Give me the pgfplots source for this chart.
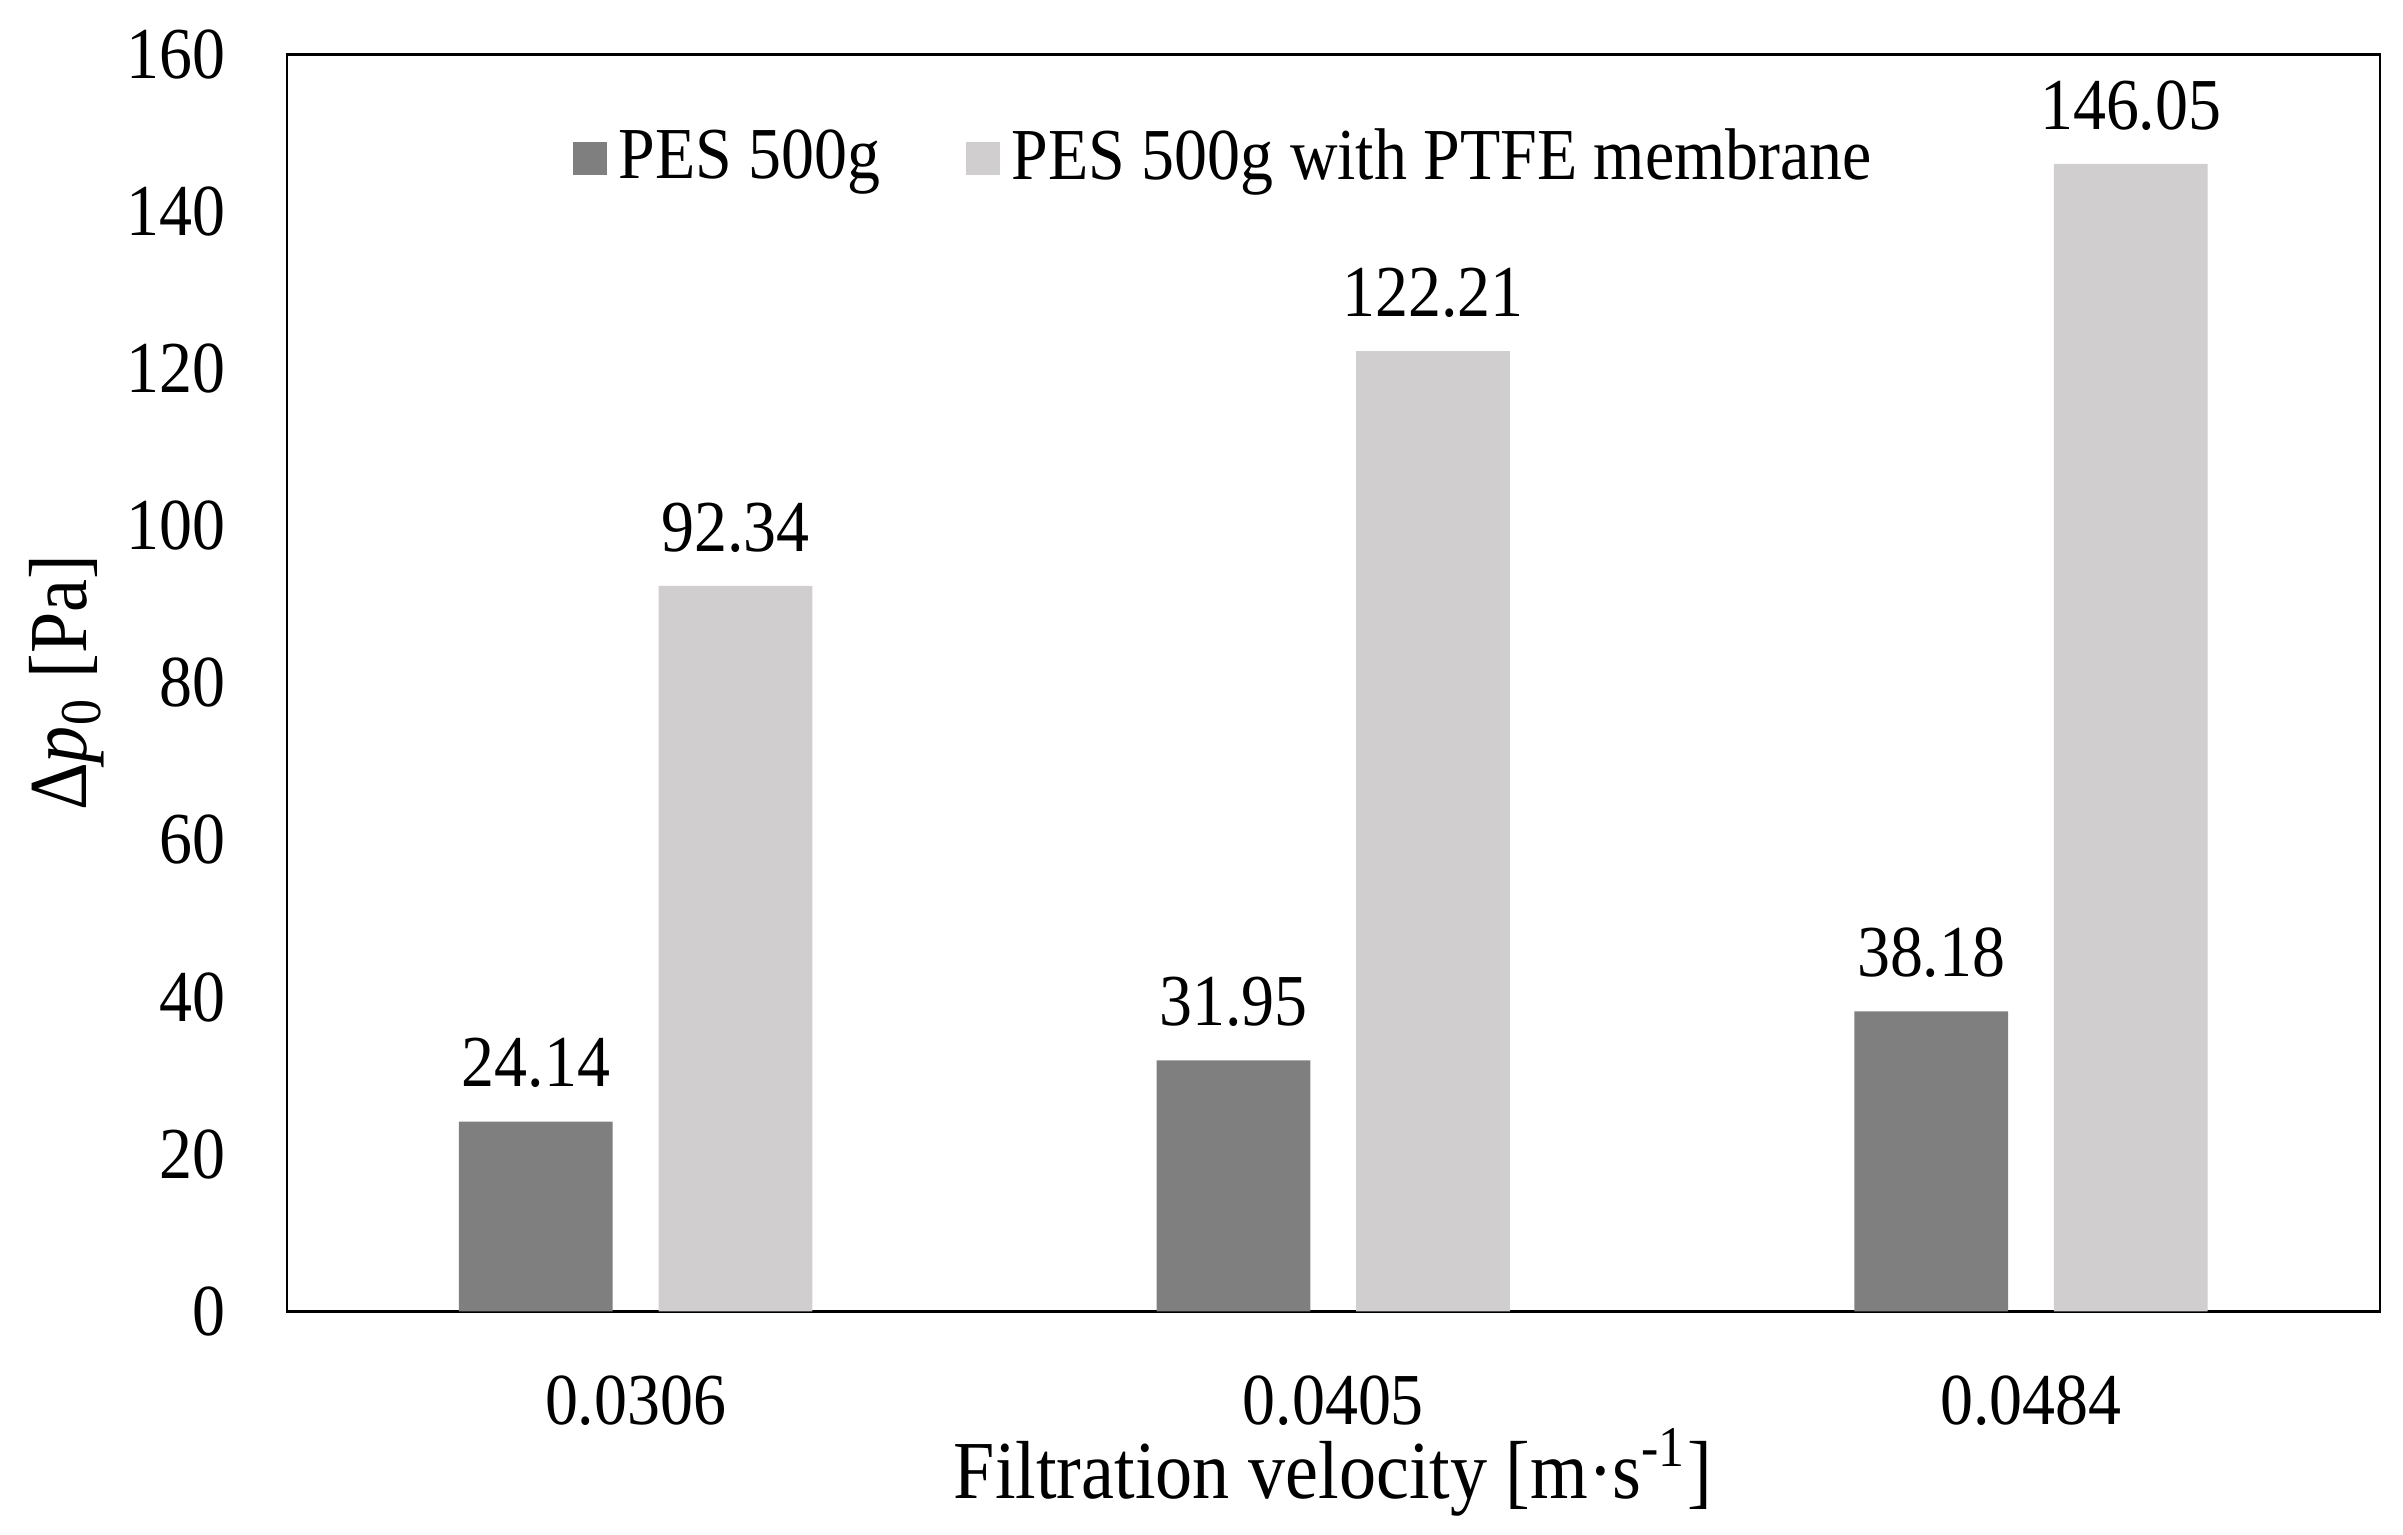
\documentclass[border=0pt]{standalone}
\usepackage{fontspec}
\setmainfont{Liberation Serif}[FakeStretch=0.9]
\usepackage{pgfplots}
\pgfplotsset{compat=1.18}
\definecolor{darkbar}{HTML}{7F7F7F}
\definecolor{lightbar}{HTML}{D0CECE}

\begin{document}
\begin{tikzpicture}
  \useasboundingbox (-47pt,-36.6pt) rectangle (346.8pt,214.9pt);
  \begin{axis}[
      scale only axis,
      width=343pt,
      height=206pt,
      xmin=-0.5, xmax=2.5,
      ymin=0, ymax=160,
      ytick={0,20,...,160},
      xtick={0,1,2},
      xticklabels={0.0306,0.0405,0.0484},
      major tick length=0pt,
      ybar,
      bar width=25.2pt,
      /pgf/number format/assume math mode=true,
      tick label style={font=\fontsize{12}{14}\selectfont},
      yticklabel style={xshift=-6.5pt},
      xticklabel style={yshift=-7pt},
      every axis y label/.style={
        at={(axis description cs:0,0.5)},
        xshift=-36pt, rotate=90, anchor=center,
        font=\fontsize{13.5}{15}\selectfont
      },
      every axis x label/.style={
        at={(axis description cs:0.5,0)},
        yshift=-26.4pt, anchor=center,
        font=\fontsize{13.5}{15}\selectfont
      },
      ylabel={Δ\textit{p}\textsubscript{0} [Pa]},
      xlabel={Filtration velocity [m·s\textsuperscript{-1}]},
      nodes near coords,
      nodes near coords style={
        font=\fontsize{12}{14}\selectfont,
        /pgf/number format/.cd, fixed, fixed zerofill, precision=2,
        assume math mode=true,
        /tikz/.cd, yshift=2pt
      },
      legend style={
        at={(0.45,0.917)},
        anchor=center,
        draw=none,
        font=\fontsize{12}{14}\selectfont,
        /tikz/every even column/.append style={column sep=12pt}
      },
      legend columns=2,
      legend image code/.code={
        \fill[#1] (0pt,-2.75pt) rectangle (5.5pt,2.75pt);
      },
    ]
    %% PES 500g %%
    \addplot[fill=darkbar, draw=none, bar shift=-16.35pt]
    table[row sep=\\] {
      x  y     \\
      0  24.14 \\
      1  31.95 \\
      2  38.18 \\
    };
    \addlegendentry{PES 500g}

    %% PES 500g with PTFE membrane %%
    \addplot[fill=lightbar, draw=none, bar shift=16.35pt]
    table[row sep=\\] {
      x  y      \\
      0  92.34  \\
      1  122.21 \\
      2  146.05 \\
    };
    \addlegendentry{PES 500g with PTFE membrane}

  \end{axis}
\end{tikzpicture}
\end{document}
